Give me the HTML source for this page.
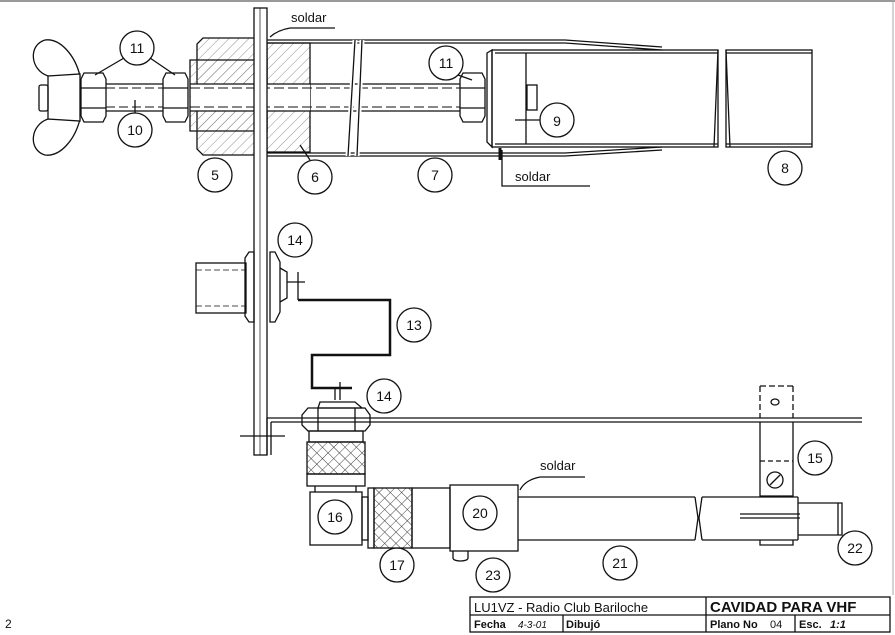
<!DOCTYPE html>
<html><head><meta charset="utf-8"><style>
html,body{margin:0;padding:0;background:#fff}
svg{display:block}
text{font-family:"Liberation Sans",sans-serif;fill:#111}
</style></head><body>
<svg width="895" height="635" viewBox="0 0 895 635" xmlns="http://www.w3.org/2000/svg">
<defs>
<pattern id="h" width="7" height="7" patternUnits="userSpaceOnUse" patternTransform="rotate(45)"><line x1="0" y1="0" x2="0" y2="7" stroke="#777" stroke-width="0.8"/></pattern>
<pattern id="x" width="8" height="8" patternUnits="userSpaceOnUse" patternTransform="rotate(45)"><path d="M0 0V8M0 0H8" stroke="#333" stroke-width="0.9" fill="none"/></pattern>
</defs>
<rect width="895" height="635" fill="#fff"/>
<line x1="0" y1="1" x2="895" y2="1" stroke="#999" stroke-width="2"/>
<line x1="893" y1="0" x2="893" y2="595" stroke="#aaa" stroke-width="1"/>
<g fill="none" stroke="#111" stroke-width="1.3">
<path d="M48 76 C30 70 28 45 45 40 C60 38 75 55 80 76 Z"/>
<path d="M48 119 C30 125 28 150 45 155 C60 157 75 140 80 119 Z"/>
<path d="M48 76 L80 74 L80 121 L48 119 Z" fill="#fff"/>
<rect x="39" y="85" width="9" height="26" rx="2"/>
<path d="M84 73 H103 L106 79 V116 L103 122 H84 L81 116 V79 Z"/>
<line x1="81" y1="88" x2="106" y2="88"/><line x1="81" y1="108" x2="106" y2="108"/>
<path d="M166 73 H185 L188 79 V116 L185 122 H166 L163 116 V79 Z"/>
<line x1="163" y1="88" x2="188" y2="88"/><line x1="163" y1="108" x2="188" y2="108"/>
<line x1="106" y1="84" x2="163" y2="84"/><line x1="106" y1="111" x2="163" y2="111"/>
<line x1="106" y1="88" x2="163" y2="88" stroke-dasharray="9 4" stroke-width="1"/>
<line x1="106" y1="107" x2="163" y2="107" stroke-dasharray="9 4" stroke-width="1"/>
<path d="M203 38 H255 V155 H203 L197 149 V44 Z" fill="url(#h)"/>
<path d="M267 43 H310 V152 H267 Z" fill="url(#h)"/>
<path d="M190 60 H267 V131 H190 Z" fill="url(#h)"/>
<rect x="191" y="84" width="119" height="27" fill="#fff" stroke="none"/>
<line x1="190" y1="84" x2="310" y2="84"/><line x1="190" y1="111" x2="310" y2="111"/>
<line x1="190" y1="88" x2="460" y2="88" stroke-dasharray="10 4" stroke-width="1"/>
<line x1="190" y1="107" x2="460" y2="107" stroke-dasharray="10 4" stroke-width="1"/>
<line x1="310" y1="84" x2="460" y2="84"/><line x1="310" y1="111" x2="460" y2="111"/>
<rect x="254" y="8" width="13" height="447" fill="#fff"/>
<line x1="260" y1="8" x2="260" y2="455" stroke-width="0.7"/>
<path d="M267 40 H565 L662 47"/><path d="M267 43 H565 L662 50"/>
<path d="M267 153 H565 L662 147"/><path d="M267 156 H565 L662 150"/>
<path d="M355 40 L348 156 M362 40 L357 156" stroke="#fff" stroke-width="5"/>
<path d="M355 40 L348 156 M362 40 L357 156"/>
<path d="M463 73 H482 L485 79 V116 L482 122 H463 L460 116 V79 Z"/>
<line x1="460" y1="88" x2="485" y2="88"/><line x1="460" y1="108" x2="485" y2="108"/>
<path d="M487 53 L492 50 V147 L487 142 Z"/>
<rect x="492" y="50" width="226" height="97"/>
<line x1="495" y1="53" x2="718" y2="53"/><line x1="495" y1="144" x2="718" y2="144"/>
<line x1="526" y1="53" x2="526" y2="144"/>
<rect x="527" y="85" width="10" height="25"/>
<rect x="722" y="45" width="8" height="108" fill="#fff" stroke="none"/>
<path d="M718 50 L714 147 M726 50 L730 147"/>
<rect x="726" y="50" width="86" height="97"/>
<line x1="726" y1="53" x2="812" y2="53"/><line x1="726" y1="144" x2="812" y2="144"/>
<path d="M290 28 H335 M290 28 Q278 30 270 37"/>
<path d="M502 150 V186 H590"/>
<line x1="500" y1="148" x2="500" y2="160" stroke-width="3"/>
<rect x="196" y="263" width="50" height="50"/>
<path d="M196 270 H246 M196 306 H246" stroke-dasharray="6 3" stroke-width="0.8"/>
<path d="M249 252 H254 V322 H249 L245 316 V258 Z"/>
<path d="M270 252 H275 L280 262 V312 L275 322 H270 Z"/>
<path d="M280 268 L287 272 V298 L280 302"/>
<path d="M287 282 H305 M298 272 V300"/>
<path d="M298 300 H390 V355 H312 V388 H352" stroke-width="2.5"/>
<path d="M267 418 H862 M271 422 H862 M267 418 V455 M271 422 V455"/>
<path d="M240 436 H285"/>
<path d="M335 388 V400 M340 382 V400"/>
<path d="M320 402 H355 L362 408 H318 Z"/>
<path d="M308 408 H365 L370 415 V425 L365 431 H308 L302 425 V415 Z"/>
<line x1="318" y1="408" x2="318" y2="431"/><line x1="355" y1="408" x2="355" y2="431"/>
<rect x="309" y="431" width="54" height="11"/>
<rect x="307" y="442" width="58" height="32" fill="url(#x)"/>
<rect x="307" y="474" width="58" height="12"/>
<path d="M315 486 V492 M356 486 V492"/>
<rect x="310" y="492" width="52" height="53"/>
<rect x="362" y="497" width="6" height="43"/>
<rect x="368" y="488" width="6" height="60"/>
<rect x="374" y="488" width="38" height="60" fill="url(#x)"/>
<rect x="412" y="488" width="38" height="60"/>
<rect x="450" y="485" width="68" height="66"/>
<path d="M453 551 V558 C453 562 468 562 468 558 V551"/>
<path d="M518 497 H695 M518 540 H695 M702 497 H798 M702 540 H798"/>
<path d="M695 497 L698 518 L695 540 M702 497 L699 518 L702 540"/>
<path d="M798 497 V540"/>
<path d="M798 503 H842 V535 H798 M838 503 V535"/>
<path d="M740 514 H800 M740 518 H800"/>
<path d="M760 386 V418 M793 386 V418 M760 386 H793" stroke-dasharray="6 3"/>
<path d="M760 422 V496 H793 V422"/>
<path d="M760 461 H793" stroke-dasharray="5 3"/>
<circle cx="775" cy="480" r="8"/><path d="M770 485 L780 475"/>
<ellipse cx="775" cy="402" rx="4" ry="3"/>
<path d="M760 540 V545 H793 V540"/>
<path d="M540 477 H585 M540 477 Q525 480 520 490"/>
<circle cx="137" cy="48" r="17"/><path d="M124 58 L95 75 M150 58 L175 75"/>
<circle cx="135" cy="130" r="17"/><path d="M135 113 V100"/>
<circle cx="215" cy="175" r="17"/>
<circle cx="315" cy="177" r="17"/><path d="M310 160 L300 145"/>
<circle cx="435" cy="175" r="17"/>
<circle cx="446" cy="63" r="17"/><path d="M458 75 L472 80"/>
<circle cx="557" cy="120" r="17"/><path d="M540 120 H515"/>
<circle cx="785" cy="168" r="17"/>
<circle cx="295" cy="240" r="17"/>
<circle cx="414" cy="325" r="17"/>
<circle cx="384" cy="396" r="17"/>
<circle cx="815" cy="458" r="17"/>
<circle cx="335" cy="517" r="17"/>
<circle cx="480" cy="513" r="17"/>
<circle cx="397" cy="565" r="17"/>
<circle cx="493" cy="575" r="17"/>
<circle cx="620" cy="563" r="17"/>
<circle cx="855" cy="548" r="17"/>
<rect x="470" y="597" width="420" height="35"/>
<path d="M470 615 H890 M706 597 V632 M563 615 V632 M795 615 V632"/>
</g>
<g font-size="14" text-anchor="middle">
<text x="137" y="53">11</text><text x="135" y="135">10</text><text x="215" y="180">5</text>
<text x="315" y="182">6</text><text x="435" y="180">7</text><text x="446" y="68">11</text>
<text x="557" y="126">9</text><text x="785" y="173">8</text><text x="295" y="245">14</text>
<text x="414" y="330">13</text><text x="384" y="401">14</text><text x="815" y="463">15</text>
<text x="335" y="522">16</text><text x="480" y="518">20</text><text x="397" y="570">17</text>
<text x="493" y="580">23</text><text x="620" y="568">21</text><text x="855" y="553">22</text>
</g>
<g font-size="13" font-family="Liberation Mono">
<text x="291" y="22">soldar</text><text x="515" y="181">soldar</text><text x="540" y="470">soldar</text>
</g>
<text x="5" y="628" font-size="12" fill="#666">2</text>
<text x="474" y="612" font-size="13">LU1VZ - Radio Club Bariloche</text>
<text x="710" y="612" font-size="15" font-weight="bold">CAVIDAD PARA VHF</text>
<g font-size="11" font-weight="bold">
<text x="474" y="628">Fecha</text><text x="518" y="628" font-weight="normal" font-size="10" font-style="italic">4-3-01</text>
<text x="566" y="628">Dibujó</text>
<text x="710" y="628">Plano No</text><text x="770" y="628" font-weight="normal">04</text>
<text x="799" y="628">Esc.</text><text x="830" y="628" font-style="italic">1:1</text>
</g>
</svg>
</body></html>
